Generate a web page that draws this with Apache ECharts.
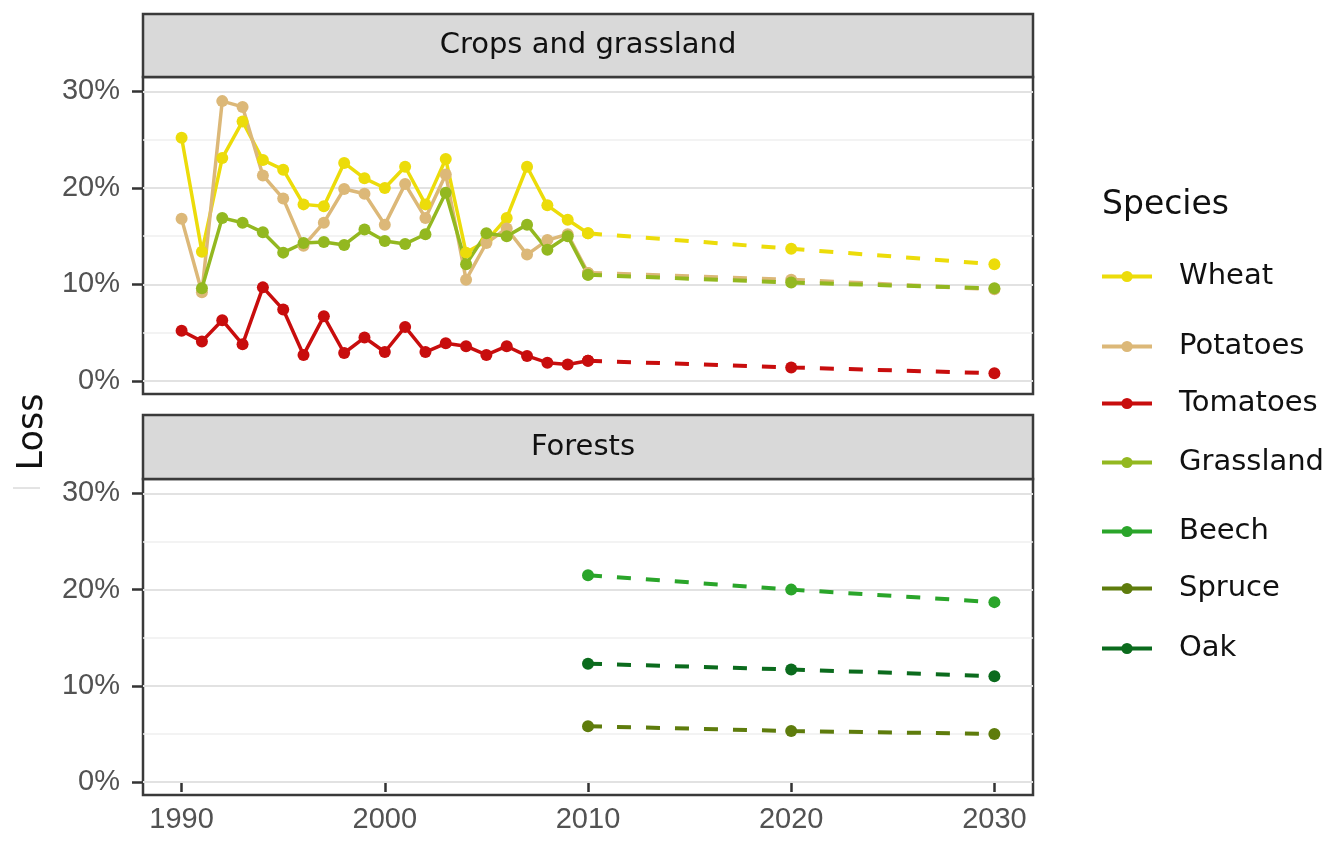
<!DOCTYPE html>
<html>
<head>
<meta charset="utf-8">
<title>Loss by species</title>
<script src="https://cdn.jsdelivr.net/npm/echarts@6/dist/echarts.min.js"></script>
<style>
  html, body { margin: 0; padding: 0; background: #fff; }
  #chart { width: 1328px; height: 841px; }
</style>
</head>
<body>
<div id="chart"></div>
<script>
// Observed years and losses (%)
const histYears = [1990, 1991, 1992, 1993, 1994, 1995, 1996, 1997, 1998, 1999, 2000,
                   2001, 2002, 2003, 2004, 2005, 2006, 2007, 2008, 2009, 2010];
const wheat     = [25.2, 13.4, 23.1, 26.9, 22.9, 21.9, 18.3, 18.1, 22.6, 21.0, 20.0,
                   22.2, 18.3, 23.0, 13.3, 14.5, 16.9, 22.2, 18.2, 16.7, 15.3];
const potatoes  = [16.8, 9.2, 29.0, 28.4, 21.3, 18.9, 14.0, 16.4, 19.9, 19.4, 16.2,
                   20.4, 16.9, 21.4, 10.5, 14.3, 15.8, 13.1, 14.6, 15.2, 11.2];
const tomatoes  = [5.2, 4.1, 6.3, 3.8, 9.7, 7.4, 2.7, 6.7, 2.9, 4.5, 3.0,
                   5.6, 3.0, 3.9, 3.6, 2.7, 3.6, 2.6, 1.9, 1.7, 2.1];
const grassland = [null, 9.6, 16.9, 16.4, 15.4, 13.3, 14.3, 14.4, 14.1, 15.7, 14.5,
                   14.2, 15.2, 19.5, 12.1, 15.3, 15.0, 16.2, 13.6, 15.0, 11.0];

// Projected losses (%)
const projYears     = [2010, 2020, 2030];
const wheatProj     = [15.3, 13.7, 12.1];
const potatoesProj  = [11.2, 10.5, 9.5];
const tomatoesProj  = [2.1, 1.4, 0.8];
const grasslandProj = [11.0, 10.2, 9.6];
const beechProj     = [21.5, 20.0, 18.7];
const spruceProj    = [5.8, 5.3, 5.0];
const oakProj       = [12.3, 11.7, 11.0];

// Axis ticks
const yTicks = [0, 10, 20, 30];
const yMinorLines = [5, 15, 25];
const xTicks = [1990, 2000, 2010, 2020, 2030];

const colors = {
  Wheat: '#ecdc0a',
  Potatoes: '#dcb878',
  Tomatoes: '#c80d0d',
  Grassland: '#93b820',
  Beech: '#2aa52a',
  Spruce: '#5e7c0c',
  Oak: '#0b6b1d'
};

function pairs(xs, ys) {
  const out = [];
  xs.forEach((x, i) => { if (ys[i] !== null) out.push([x, ys[i]]); });
  return out;
}

function lineSeries(name, xs, ys, panel, dashed) {
  return {
    type: 'line',
    name: name,
    xAxisIndex: panel,
    yAxisIndex: panel,
    data: pairs(xs, ys),
    symbol: 'circle',
    symbolSize: 12,
    showSymbol: true,
    z: 3,
    itemStyle: { color: colors[name] },
    lineStyle: dashed ? { color: colors[name], width: 4, type: [14, 15] }
                      : { color: colors[name], width: 3.5 },
    emphasis: { disabled: true }
  };
}

function gridLines(panel) {
  return {
    type: 'line',
    xAxisIndex: panel,
    yAxisIndex: panel,
    data: [],
    silent: true,
    markLine: {
      silent: true,
      z: 1,
      symbol: 'none',
      label: { show: false },
      animation: false,
      data: yTicks.map(v => ({ yAxis: v, lineStyle: { color: '#e2e2e2', width: 2, type: 'solid' } }))
        .concat(yMinorLines.map(v => ({ yAxis: v, lineStyle: { color: '#efefef', width: 1.5, type: 'solid' } })))
    }
  };
}

const tickFont = { fontFamily: '"Liberation Sans", Arial, sans-serif', fontSize: 29, color: '#525252' };

function yAxis(panel) {
  return {
    type: 'value',
    gridIndex: panel,
    min: -1.35,
    max: 31.5,
    axisLine: { show: false },
    splitLine: { show: false },
    axisTick: { show: true, length: 11, customValues: yTicks, lineStyle: { color: '#333', width: 2.5 } },
    axisLabel: {
      show: true, margin: 23, customValues: yTicks,
      formatter: v => v + '%',
      ...tickFont
    }
  };
}

function xAxis(panel, showLabels) {
  return {
    type: 'value',
    gridIndex: panel,
    min: 1988.1,
    max: 2031.9,
    axisLine: { show: false },
    splitLine: { show: false },
    axisTick: { show: showLabels, length: 10, customValues: xTicks, lineStyle: { color: '#333', width: 2.5 } },
    axisLabel: {
      show: showLabels, margin: 10, customValues: xTicks,
      formatter: v => String(v),
      ...tickFont
    }
  };
}

const legendNames = ['Wheat', 'Potatoes', 'Tomatoes', 'Grassland', 'Beech', 'Spruce', 'Oak'];
const legendCenters = [275, 345, 402, 461, 530, 587, 647];

const legends = legendNames.map((n, i) => ({
  data: [n],
  orient: 'vertical',
  left: 1100,
  top: legendCenters[i] - 13,
  padding: 0,
  itemWidth: 50,
  itemHeight: 14,
  selectedMode: false,
  lineStyle: { type: 'solid', width: 4 },
  textStyle: {
    fontFamily: '"DejaVu Sans", sans-serif',
    fontSize: 29,
    color: '#111',
    padding: [0, 0, 0, 22]
  }
}));

const stripFont = '"DejaVu Sans", sans-serif';

const option = {
  animation: false,
  backgroundColor: '#fff',
  title: {
    text: 'Species',
    left: 1102,
    top: 189,
    padding: 0,
    textStyle: { fontFamily: stripFont, fontSize: 33, fontWeight: 'normal', color: '#111' }
  },
  legend: legends,
  grid: [
    { left: 143, top: 77, width: 890, height: 317, show: true, borderColor: '#3a3a3a', borderWidth: 2.5, backgroundColor: '#fff' },
    { left: 143, top: 479, width: 890, height: 316, show: true, borderColor: '#3a3a3a', borderWidth: 2.5, backgroundColor: '#fff' }
  ],
  xAxis: [xAxis(0, false), xAxis(1, true)],
  yAxis: [yAxis(0), yAxis(1)],
  graphic: [
    { type: 'rect', shape: { x: 143, y: 14, width: 890, height: 63 },
      style: { fill: '#d9d9d9', stroke: '#3a3a3a', lineWidth: 2.5 }, z: 10 },
    { type: 'text', x: 588, y: 45, z: 11,
      style: { text: 'Crops and grassland', font: '29px ' + stripFont, fill: '#111',
               align: 'center', verticalAlign: 'middle', textAlign: 'center', textVerticalAlign: 'middle' } },
    { type: 'rect', shape: { x: 143, y: 415, width: 890, height: 64 },
      style: { fill: '#d9d9d9', stroke: '#3a3a3a', lineWidth: 2.5 }, z: 10 },
    { type: 'text', x: 583, y: 447, z: 11,
      style: { text: 'Forests', font: '29px ' + stripFont, fill: '#111',
               align: 'center', verticalAlign: 'middle', textAlign: 'center', textVerticalAlign: 'middle' } },
    { type: 'text', x: 33, y: 432, rotation: Math.PI / 2, z: 11,
      style: { text: 'Loss', font: '35px ' + stripFont, fill: '#111',
               align: 'center', verticalAlign: 'middle', textAlign: 'center', textVerticalAlign: 'middle' } },
    { type: 'line', shape: { x1: 13, y1: 488, x2: 40, y2: 488 },
      style: { stroke: '#c8c8c8', lineWidth: 1 }, z: 11 }
  ],
  series: [
    gridLines(0),
    gridLines(1),
    lineSeries('Wheat', histYears, wheat, 0, false),
    lineSeries('Potatoes', histYears, potatoes, 0, false),
    lineSeries('Tomatoes', histYears, tomatoes, 0, false),
    lineSeries('Grassland', histYears, grassland, 0, false),
    lineSeries('Wheat', projYears, wheatProj, 0, true),
    lineSeries('Potatoes', projYears, potatoesProj, 0, true),
    lineSeries('Tomatoes', projYears, tomatoesProj, 0, true),
    lineSeries('Grassland', projYears, grasslandProj, 0, true),
    lineSeries('Beech', projYears, beechProj, 1, true),
    lineSeries('Spruce', projYears, spruceProj, 1, true),
    lineSeries('Oak', projYears, oakProj, 1, true)
  ]
};

const chart = echarts.init(document.getElementById('chart'), null, { renderer: 'canvas' });
chart.setOption(option);
</script>
</body>
</html>
